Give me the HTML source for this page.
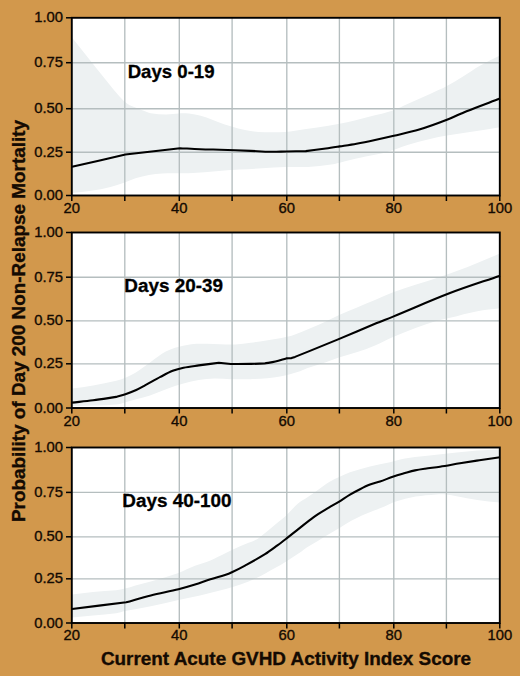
<!DOCTYPE html>
<html><head><meta charset="utf-8"><style>
html,body{margin:0;padding:0;background:#D2984C;}
svg{display:block;}
.tl{font-family:"Liberation Sans",sans-serif;font-size:14.8px;fill:#140a02;stroke:#140a02;stroke-width:0.35px;}
.pl{font-family:"Liberation Sans",sans-serif;font-weight:bold;font-size:18.9px;fill:#000;stroke:#000;stroke-width:0.3px;}
.al{font-family:"Liberation Sans",sans-serif;font-weight:bold;font-size:18.9px;fill:#140a02;stroke:#140a02;stroke-width:0.35px;}
</style></head><body>
<svg width="520" height="676" viewBox="0 0 520 676">
<rect x="0" y="0" width="520" height="676" fill="#D2984C"/>
<rect x="71.8" y="17.8" width="428.0" height="177.7" fill="#FFFFFF"/>
<path d="M72.00,37.50 C80.47,48.17 88.93,59.00 97.40,69.50 C104.93,78.84 112.47,88.42 120.00,97.00 C122.57,99.92 125.13,102.23 127.70,104.00 C130.27,105.77 132.83,106.49 135.40,107.60 C137.93,108.69 140.47,109.68 143.00,110.60 C145.60,111.55 148.20,112.77 150.80,113.20 C155.87,114.04 160.93,114.36 166.00,114.40 C170.40,114.43 174.80,113.55 179.20,113.40 C182.47,113.29 185.73,113.35 189.00,113.60 C191.00,113.75 193.00,114.15 195.00,114.60 C198.83,115.45 202.67,116.28 206.50,117.50 C210.33,118.72 214.17,120.52 218.00,121.90 C222.50,123.52 227.00,125.15 231.50,126.50 C236.00,127.85 240.50,129.10 245.00,130.00 C249.50,130.90 254.00,131.52 258.50,131.90 C262.97,132.28 267.43,132.30 271.90,132.30 C276.40,132.30 280.90,132.19 285.40,131.90 C288.60,131.69 291.80,131.28 295.00,130.80 C309.87,128.58 324.73,126.63 339.60,123.80 C349.73,121.87 359.87,119.04 370.00,116.50 C377.93,114.51 385.87,112.82 393.80,110.20 C398.37,108.69 402.93,106.14 407.50,104.10 C415.00,100.74 422.50,97.43 430.00,94.00 C435.63,91.43 441.27,89.10 446.90,86.10 C452.53,83.10 458.17,79.49 463.80,76.00 C469.03,72.76 474.27,68.86 479.50,65.90 C486.33,62.03 493.17,58.97 500.00,55.50 L500.00,127.20 C488.87,128.97 477.73,130.74 466.60,132.50 C460.03,133.54 453.47,134.43 446.90,135.60 C441.27,136.60 435.63,137.66 430.00,139.00 C422.50,140.79 415.00,142.72 407.50,145.00 C400.50,147.12 393.50,150.27 386.50,152.20 C379.60,154.10 372.70,155.00 365.80,156.50 C358.87,158.00 351.93,159.58 345.00,161.20 C340.40,162.28 335.80,163.89 331.20,164.60 C323.47,165.79 315.73,166.50 308.00,166.90 C300.33,167.30 292.67,166.77 285.00,167.00 C277.43,167.23 269.87,167.87 262.30,168.30 C254.60,168.74 246.90,169.12 239.20,169.60 C231.47,170.08 223.73,170.63 216.00,171.20 C208.33,171.76 200.67,172.65 193.00,173.00 C186.00,173.32 179.00,173.09 172.00,173.20 C168.80,173.25 165.60,173.25 162.40,173.50 C157.90,173.85 153.40,174.20 148.90,175.00 C144.43,175.80 139.97,176.92 135.50,178.30 C131.63,179.49 127.77,181.37 123.90,182.70 C119.43,184.24 114.97,185.79 110.50,186.90 C104.07,188.49 97.63,189.78 91.20,190.80 C84.80,191.81 78.40,192.27 72.00,193.00 Z" fill="#EDF1F2"/>
<line x1="124.8" y1="17.8" x2="124.8" y2="195.5" stroke="#B5BEBF" stroke-width="1.35"/>
<line x1="179.3" y1="17.8" x2="179.3" y2="195.5" stroke="#B5BEBF" stroke-width="1.35"/>
<line x1="232.1" y1="17.8" x2="232.1" y2="195.5" stroke="#B5BEBF" stroke-width="1.35"/>
<line x1="286.8" y1="17.8" x2="286.8" y2="195.5" stroke="#B5BEBF" stroke-width="1.35"/>
<line x1="339.4" y1="17.8" x2="339.4" y2="195.5" stroke="#B5BEBF" stroke-width="1.35"/>
<line x1="393.8" y1="17.8" x2="393.8" y2="195.5" stroke="#B5BEBF" stroke-width="1.35"/>
<line x1="446.4" y1="17.8" x2="446.4" y2="195.5" stroke="#B5BEBF" stroke-width="1.35"/>
<line x1="71.8" y1="62.7" x2="499.8" y2="62.7" stroke="#B5BEBF" stroke-width="1.35"/>
<line x1="71.8" y1="108.7" x2="499.8" y2="108.7" stroke="#B5BEBF" stroke-width="1.35"/>
<line x1="71.8" y1="152.2" x2="499.8" y2="152.2" stroke="#B5BEBF" stroke-width="1.35"/>
<path d="M72.00,166.80 C89.80,162.70 107.60,158.60 125.40,154.50 C143.60,152.40 161.80,150.30 180.00,148.20 C186.67,148.53 193.33,148.95 200.00,149.20 C206.67,149.45 213.33,149.53 220.00,149.70 C230.27,150.10 240.53,150.50 250.80,150.90 C257.47,151.20 264.13,151.69 270.80,151.80 C275.93,151.89 281.07,151.60 286.20,151.50 C292.73,151.37 299.27,151.23 305.80,151.10 C312.47,150.23 319.13,149.43 325.80,148.50 C330.40,147.86 335.00,147.12 339.60,146.40 C345.23,145.52 350.87,144.72 356.50,143.70 C362.67,142.59 368.83,141.31 375.00,140.00 C381.27,138.67 387.53,137.27 393.80,135.80 C402.27,133.81 410.73,132.15 419.20,129.60 C428.43,126.82 437.67,123.38 446.90,119.80 C453.47,117.25 460.03,113.83 466.60,111.20 C477.73,106.73 488.87,102.73 500.00,98.50" fill="none" stroke="#000" stroke-width="2.1" stroke-linejoin="round"/>
<rect x="71.8" y="17.8" width="428.0" height="177.7" fill="none" stroke="#000" stroke-width="1.9"/>
<line x1="66" y1="17.8" x2="71.8" y2="17.8" stroke="#000" stroke-width="1.5"/>
<text x="63" y="22.3" text-anchor="end" class="tl">1.00</text>
<line x1="66" y1="62.7" x2="71.8" y2="62.7" stroke="#000" stroke-width="1.5"/>
<text x="63" y="67.2" text-anchor="end" class="tl">0.75</text>
<line x1="66" y1="108.7" x2="71.8" y2="108.7" stroke="#000" stroke-width="1.5"/>
<text x="63" y="113.2" text-anchor="end" class="tl">0.50</text>
<line x1="66" y1="152.2" x2="71.8" y2="152.2" stroke="#000" stroke-width="1.5"/>
<text x="63" y="156.7" text-anchor="end" class="tl">0.25</text>
<line x1="66" y1="195.5" x2="71.8" y2="195.5" stroke="#000" stroke-width="1.5"/>
<text x="63" y="200.0" text-anchor="end" class="tl">0.00</text>
<line x1="71.8" y1="195.5" x2="71.8" y2="201.0" stroke="#000" stroke-width="1.5"/>
<text x="71.8" y="213.2" text-anchor="middle" class="tl">20</text>
<line x1="124.8" y1="195.5" x2="124.8" y2="201.0" stroke="#000" stroke-width="1.5"/>
<line x1="179.3" y1="195.5" x2="179.3" y2="201.0" stroke="#000" stroke-width="1.5"/>
<text x="179.3" y="213.2" text-anchor="middle" class="tl">40</text>
<line x1="232.1" y1="195.5" x2="232.1" y2="201.0" stroke="#000" stroke-width="1.5"/>
<line x1="286.8" y1="195.5" x2="286.8" y2="201.0" stroke="#000" stroke-width="1.5"/>
<text x="286.8" y="213.2" text-anchor="middle" class="tl">60</text>
<line x1="339.4" y1="195.5" x2="339.4" y2="201.0" stroke="#000" stroke-width="1.5"/>
<line x1="393.8" y1="195.5" x2="393.8" y2="201.0" stroke="#000" stroke-width="1.5"/>
<text x="393.8" y="213.2" text-anchor="middle" class="tl">80</text>
<line x1="446.4" y1="195.5" x2="446.4" y2="201.0" stroke="#000" stroke-width="1.5"/>
<line x1="499.8" y1="195.5" x2="499.8" y2="201.0" stroke="#000" stroke-width="1.5"/>
<text x="499.8" y="213.2" text-anchor="middle" class="tl">100</text>
<text x="127.7" y="77.7" class="pl" style="font-size:18.6px">Days 0-19</text>
<rect x="71.8" y="232.5" width="428.0" height="175.5" fill="#FFFFFF"/>
<path d="M72.00,388.50 C79.03,387.47 86.07,386.63 93.10,385.40 C100.80,384.06 108.50,382.64 116.20,380.80 C119.27,380.07 122.33,378.96 125.40,377.70 C128.60,376.39 131.80,374.95 135.00,373.10 C137.57,371.62 140.13,369.50 142.70,367.70 C145.27,365.90 147.83,364.17 150.40,362.30 C152.97,360.43 155.53,358.30 158.10,356.50 C160.67,354.70 163.23,352.84 165.80,351.50 C168.87,349.90 171.93,348.57 175.00,347.70 C180.40,346.17 185.80,344.97 191.20,344.30 C196.30,343.67 201.40,343.82 206.50,343.80 C211.00,343.78 215.50,344.09 220.00,344.20 C225.13,344.32 230.27,344.75 235.40,344.50 C240.53,344.25 245.67,343.38 250.80,342.70 C255.93,342.02 261.07,341.17 266.20,340.40 C271.30,339.64 276.40,339.13 281.50,338.10 C286.00,337.19 290.50,336.29 295.00,334.60 C305.27,330.75 315.53,326.07 325.80,321.50 C329.90,319.67 334.00,317.24 338.10,315.40 C344.23,312.64 350.37,310.26 356.50,307.70 C362.67,305.13 368.83,302.59 375.00,300.00 C381.03,297.46 387.07,294.56 393.10,292.30 C400.80,289.42 408.50,287.12 416.20,284.60 C423.87,282.09 431.53,279.76 439.20,277.20 C445.03,275.26 450.87,273.29 456.70,271.10 C463.57,268.52 470.43,265.69 477.30,262.90 C484.87,259.82 492.43,256.63 500.00,253.50 L500.00,308.30 C492.43,309.27 484.87,309.76 477.30,311.20 C468.20,312.93 459.10,315.60 450.00,317.80 C444.87,319.04 439.73,320.00 434.60,321.50 C428.47,323.30 422.33,325.41 416.20,327.70 C408.50,330.58 400.80,333.69 393.10,337.00 C387.07,339.59 381.03,342.88 375.00,345.40 C368.83,347.98 362.67,350.24 356.50,352.30 C350.37,354.34 344.23,355.70 338.10,357.70 C334.00,359.04 329.90,360.90 325.80,362.30 C319.53,364.44 313.27,366.14 307.00,368.30 C304.67,369.10 302.33,370.39 300.00,371.20 C296.67,372.36 293.33,373.32 290.00,374.20 C286.67,375.08 283.33,375.90 280.00,376.50 C275.77,377.26 271.53,377.92 267.30,378.30 C261.53,378.82 255.77,379.06 250.00,379.20 C243.60,379.36 237.20,379.33 230.80,379.20 C225.27,379.09 219.73,378.36 214.20,378.50 C209.07,378.63 203.93,379.16 198.80,380.00 C193.70,380.83 188.60,382.09 183.50,383.50 C178.33,384.93 173.17,386.66 168.00,388.50 C162.00,390.63 156.00,393.38 150.00,395.40 C145.40,396.95 140.80,397.91 136.20,399.20 C132.60,400.21 129.00,401.33 125.40,402.30 C122.33,403.13 119.27,404.38 116.20,404.60 C101.47,405.68 86.73,405.67 72.00,406.20 Z" fill="#EDF1F2"/>
<line x1="124.8" y1="232.5" x2="124.8" y2="408.0" stroke="#B5BEBF" stroke-width="1.35"/>
<line x1="179.3" y1="232.5" x2="179.3" y2="408.0" stroke="#B5BEBF" stroke-width="1.35"/>
<line x1="232.1" y1="232.5" x2="232.1" y2="408.0" stroke="#B5BEBF" stroke-width="1.35"/>
<line x1="286.8" y1="232.5" x2="286.8" y2="408.0" stroke="#B5BEBF" stroke-width="1.35"/>
<line x1="339.4" y1="232.5" x2="339.4" y2="408.0" stroke="#B5BEBF" stroke-width="1.35"/>
<line x1="393.8" y1="232.5" x2="393.8" y2="408.0" stroke="#B5BEBF" stroke-width="1.35"/>
<line x1="446.4" y1="232.5" x2="446.4" y2="408.0" stroke="#B5BEBF" stroke-width="1.35"/>
<line x1="71.8" y1="277.2" x2="499.8" y2="277.2" stroke="#B5BEBF" stroke-width="1.35"/>
<line x1="71.8" y1="320.8" x2="499.8" y2="320.8" stroke="#B5BEBF" stroke-width="1.35"/>
<line x1="71.8" y1="363.8" x2="499.8" y2="363.8" stroke="#B5BEBF" stroke-width="1.35"/>
<path d="M72.00,402.60 C79.03,401.83 86.07,401.21 93.10,400.30 C100.80,399.31 108.50,398.03 116.20,396.90 C119.27,396.00 122.33,395.26 125.40,394.20 C129.00,392.96 132.60,391.62 136.20,390.00 C139.13,388.68 142.07,386.99 145.00,385.40 C150.13,382.62 155.27,379.61 160.40,376.90 C164.50,374.74 168.60,372.43 172.70,370.80 C176.30,369.37 179.90,368.44 183.50,367.70 C188.60,366.64 193.70,366.11 198.80,365.40 C205.47,364.47 212.13,363.67 218.80,362.80 C222.80,363.20 226.80,363.60 230.80,364.00 C237.47,363.97 244.13,364.00 250.80,363.90 C255.40,363.83 260.00,363.63 264.60,363.50 C268.20,362.83 271.80,362.35 275.40,361.50 C279.00,360.65 282.60,359.43 286.20,358.40 C287.97,358.30 289.73,358.20 291.50,358.10 C292.67,357.70 293.83,357.30 295.00,356.90 C309.37,351.07 323.73,345.34 338.10,339.40 C350.40,334.31 362.70,328.90 375.00,323.80 C381.03,321.30 387.07,319.07 393.10,316.60 C412.07,308.84 431.03,300.36 450.00,293.10 C466.67,286.72 483.33,281.50 500.00,275.70" fill="none" stroke="#000" stroke-width="2.1" stroke-linejoin="round"/>
<rect x="71.8" y="232.5" width="428.0" height="175.5" fill="none" stroke="#000" stroke-width="1.9"/>
<line x1="66" y1="232.5" x2="71.8" y2="232.5" stroke="#000" stroke-width="1.5"/>
<text x="63" y="237.0" text-anchor="end" class="tl">1.00</text>
<line x1="66" y1="277.2" x2="71.8" y2="277.2" stroke="#000" stroke-width="1.5"/>
<text x="63" y="281.7" text-anchor="end" class="tl">0.75</text>
<line x1="66" y1="320.8" x2="71.8" y2="320.8" stroke="#000" stroke-width="1.5"/>
<text x="63" y="325.3" text-anchor="end" class="tl">0.50</text>
<line x1="66" y1="363.8" x2="71.8" y2="363.8" stroke="#000" stroke-width="1.5"/>
<text x="63" y="368.3" text-anchor="end" class="tl">0.25</text>
<line x1="66" y1="408.0" x2="71.8" y2="408.0" stroke="#000" stroke-width="1.5"/>
<text x="63" y="412.5" text-anchor="end" class="tl">0.00</text>
<line x1="71.8" y1="408.0" x2="71.8" y2="413.5" stroke="#000" stroke-width="1.5"/>
<text x="71.8" y="426.4" text-anchor="middle" class="tl">20</text>
<line x1="124.8" y1="408.0" x2="124.8" y2="413.5" stroke="#000" stroke-width="1.5"/>
<line x1="179.3" y1="408.0" x2="179.3" y2="413.5" stroke="#000" stroke-width="1.5"/>
<text x="179.3" y="426.4" text-anchor="middle" class="tl">40</text>
<line x1="232.1" y1="408.0" x2="232.1" y2="413.5" stroke="#000" stroke-width="1.5"/>
<line x1="286.8" y1="408.0" x2="286.8" y2="413.5" stroke="#000" stroke-width="1.5"/>
<text x="286.8" y="426.4" text-anchor="middle" class="tl">60</text>
<line x1="339.4" y1="408.0" x2="339.4" y2="413.5" stroke="#000" stroke-width="1.5"/>
<line x1="393.8" y1="408.0" x2="393.8" y2="413.5" stroke="#000" stroke-width="1.5"/>
<text x="393.8" y="426.4" text-anchor="middle" class="tl">80</text>
<line x1="446.4" y1="408.0" x2="446.4" y2="413.5" stroke="#000" stroke-width="1.5"/>
<line x1="499.8" y1="408.0" x2="499.8" y2="413.5" stroke="#000" stroke-width="1.5"/>
<text x="499.8" y="426.4" text-anchor="middle" class="tl">100</text>
<text x="124.3" y="291.6" class="pl" style="font-size:18.9px">Days 20-39</text>
<rect x="71.8" y="447.5" width="428.0" height="175.5" fill="#FFFFFF"/>
<path d="M72.00,594.50 C79.03,593.63 86.07,592.58 93.10,591.90 C100.80,591.15 108.50,591.00 116.20,590.20 C119.13,589.90 122.07,589.33 125.00,588.60 C128.47,587.73 131.93,586.35 135.40,585.40 C140.53,583.99 145.67,582.92 150.80,581.50 C155.93,580.08 161.07,578.48 166.20,576.90 C170.30,575.64 174.40,574.58 178.50,573.00 C184.00,570.88 189.50,567.97 195.00,565.80 C200.13,563.77 205.27,562.53 210.40,560.40 C215.53,558.27 220.67,555.43 225.80,553.00 C230.93,550.57 236.07,548.06 241.20,545.80 C246.30,543.56 251.40,542.03 256.50,539.50 C258.33,538.59 260.17,536.97 262.00,535.50 C267.13,531.37 272.27,526.94 277.40,522.70 C280.33,520.28 283.27,518.23 286.20,515.50 C290.13,511.83 294.07,506.89 298.00,503.50 C301.03,500.89 304.07,499.56 307.10,497.50 C310.80,494.99 314.50,492.38 318.20,489.80 C321.87,487.24 325.53,484.31 329.20,482.10 C332.90,479.87 336.60,478.24 340.30,476.50 C343.53,474.98 346.77,473.39 350.00,472.30 C356.67,470.06 363.33,468.17 370.00,466.50 C376.67,464.83 383.33,463.82 390.00,462.30 C395.00,461.16 400.00,459.40 405.00,458.50 C411.67,457.30 418.33,456.77 425.00,456.00 C435.57,454.77 446.13,453.61 456.70,452.50 C463.57,451.78 470.43,450.98 477.30,450.50 C484.87,449.98 492.43,449.83 500.00,449.50 L500.00,502.60 C492.43,501.70 484.87,501.02 477.30,499.90 C470.43,498.89 463.57,497.42 456.70,496.20 C453.27,495.59 449.83,494.70 446.40,494.40 C443.00,494.10 439.60,494.16 436.20,494.40 C429.33,494.89 422.47,495.37 415.60,496.60 C408.73,497.83 401.87,499.64 395.00,501.80 C391.50,502.90 388.00,504.93 384.50,506.40 C380.83,507.93 377.17,509.34 373.50,510.80 C369.80,512.27 366.10,513.53 362.40,515.20 C358.70,516.87 355.00,518.76 351.30,520.80 C347.63,522.82 343.97,525.21 340.30,527.40 C336.60,529.61 332.90,531.77 329.20,534.00 C325.53,536.21 321.87,538.49 318.20,540.70 C314.50,542.93 310.80,544.91 307.10,547.30 C305.23,548.51 303.37,550.23 301.50,551.50 C296.40,554.97 291.30,558.31 286.20,561.50 C282.47,563.84 278.73,566.01 275.00,568.10 C268.83,571.55 262.67,575.16 256.50,578.10 C251.40,580.53 246.30,582.39 241.20,584.20 C236.07,586.02 230.93,587.60 225.80,589.00 C217.20,591.34 208.60,593.40 200.00,595.40 C192.83,597.07 185.67,598.43 178.50,600.00 C169.27,602.03 160.03,604.30 150.80,606.20 C142.20,607.97 133.60,609.24 125.00,611.00 C122.07,611.60 119.13,612.88 116.20,613.30 C108.50,614.41 100.80,614.87 93.10,615.60 C86.07,616.27 79.03,616.87 72.00,617.50 Z" fill="#EDF1F2"/>
<line x1="124.8" y1="447.5" x2="124.8" y2="623.0" stroke="#B5BEBF" stroke-width="1.35"/>
<line x1="179.3" y1="447.5" x2="179.3" y2="623.0" stroke="#B5BEBF" stroke-width="1.35"/>
<line x1="232.1" y1="447.5" x2="232.1" y2="623.0" stroke="#B5BEBF" stroke-width="1.35"/>
<line x1="286.8" y1="447.5" x2="286.8" y2="623.0" stroke="#B5BEBF" stroke-width="1.35"/>
<line x1="339.4" y1="447.5" x2="339.4" y2="623.0" stroke="#B5BEBF" stroke-width="1.35"/>
<line x1="393.8" y1="447.5" x2="393.8" y2="623.0" stroke="#B5BEBF" stroke-width="1.35"/>
<line x1="446.4" y1="447.5" x2="446.4" y2="623.0" stroke="#B5BEBF" stroke-width="1.35"/>
<line x1="71.8" y1="492.4" x2="499.8" y2="492.4" stroke="#B5BEBF" stroke-width="1.35"/>
<line x1="71.8" y1="536.8" x2="499.8" y2="536.8" stroke="#B5BEBF" stroke-width="1.35"/>
<line x1="71.8" y1="578.8" x2="499.8" y2="578.8" stroke="#B5BEBF" stroke-width="1.35"/>
<path d="M72.00,609.00 C90.07,606.77 108.13,604.53 126.20,602.30 C134.40,600.00 142.60,597.45 150.80,595.40 C160.03,593.09 169.27,591.48 178.50,589.20 C184.00,587.84 189.50,586.21 195.00,584.50 C200.13,582.91 205.27,580.93 210.40,579.30 C215.27,577.76 220.13,576.58 225.00,575.00 C227.30,574.25 229.60,573.38 231.90,572.30 C236.27,570.25 240.63,567.99 245.00,565.60 C251.67,561.95 258.33,558.36 265.00,554.20 C269.13,551.62 273.27,548.42 277.40,545.40 C280.47,543.16 283.53,540.78 286.60,538.40 C290.40,535.45 294.20,532.39 298.00,529.40 C303.13,525.36 308.27,520.92 313.40,517.30 C318.53,513.68 323.67,510.83 328.80,507.70 C332.13,505.67 335.47,503.86 338.80,501.80 C342.53,499.49 346.27,496.82 350.00,494.60 C353.33,492.62 356.67,490.87 360.00,489.20 C363.33,487.53 366.67,485.88 370.00,484.60 C373.33,483.32 376.67,482.65 380.00,481.50 C384.50,479.95 389.00,478.01 393.50,476.50 C397.33,475.21 401.17,474.19 405.00,473.10 C408.33,472.15 411.67,471.13 415.00,470.40 C418.33,469.67 421.67,469.19 425.00,468.70 C430.00,467.96 435.00,467.47 440.00,466.70 C446.67,465.67 453.33,464.40 460.00,463.30 C466.47,462.23 472.93,461.19 479.40,460.20 C486.27,459.15 493.13,458.20 500.00,457.20" fill="none" stroke="#000" stroke-width="2.1" stroke-linejoin="round"/>
<rect x="71.8" y="447.5" width="428.0" height="175.5" fill="none" stroke="#000" stroke-width="1.9"/>
<line x1="66" y1="447.5" x2="71.8" y2="447.5" stroke="#000" stroke-width="1.5"/>
<text x="63" y="452.0" text-anchor="end" class="tl">1.00</text>
<line x1="66" y1="492.4" x2="71.8" y2="492.4" stroke="#000" stroke-width="1.5"/>
<text x="63" y="496.9" text-anchor="end" class="tl">0.75</text>
<line x1="66" y1="536.8" x2="71.8" y2="536.8" stroke="#000" stroke-width="1.5"/>
<text x="63" y="541.3" text-anchor="end" class="tl">0.50</text>
<line x1="66" y1="578.8" x2="71.8" y2="578.8" stroke="#000" stroke-width="1.5"/>
<text x="63" y="583.3" text-anchor="end" class="tl">0.25</text>
<line x1="66" y1="623.0" x2="71.8" y2="623.0" stroke="#000" stroke-width="1.5"/>
<text x="63" y="627.5" text-anchor="end" class="tl">0.00</text>
<line x1="71.8" y1="623.0" x2="71.8" y2="628.5" stroke="#000" stroke-width="1.5"/>
<text x="71.8" y="639.8" text-anchor="middle" class="tl">20</text>
<line x1="124.8" y1="623.0" x2="124.8" y2="628.5" stroke="#000" stroke-width="1.5"/>
<line x1="179.3" y1="623.0" x2="179.3" y2="628.5" stroke="#000" stroke-width="1.5"/>
<text x="179.3" y="639.8" text-anchor="middle" class="tl">40</text>
<line x1="232.1" y1="623.0" x2="232.1" y2="628.5" stroke="#000" stroke-width="1.5"/>
<line x1="286.8" y1="623.0" x2="286.8" y2="628.5" stroke="#000" stroke-width="1.5"/>
<text x="286.8" y="639.8" text-anchor="middle" class="tl">60</text>
<line x1="339.4" y1="623.0" x2="339.4" y2="628.5" stroke="#000" stroke-width="1.5"/>
<line x1="393.8" y1="623.0" x2="393.8" y2="628.5" stroke="#000" stroke-width="1.5"/>
<text x="393.8" y="639.8" text-anchor="middle" class="tl">80</text>
<line x1="446.4" y1="623.0" x2="446.4" y2="628.5" stroke="#000" stroke-width="1.5"/>
<line x1="499.8" y1="623.0" x2="499.8" y2="628.5" stroke="#000" stroke-width="1.5"/>
<text x="499.8" y="639.8" text-anchor="middle" class="tl">100</text>
<text x="122.3" y="506.8" class="pl" style="font-size:18.9px">Days 40-100</text>
<text transform="translate(25.3,321) rotate(-90)" text-anchor="middle" class="al">Probability of Day 200 Non-Relapse Mortality</text>
<text x="286" y="664.8" text-anchor="middle" class="al">Current Acute GVHD Activity Index Score</text>
</svg>
</body></html>
